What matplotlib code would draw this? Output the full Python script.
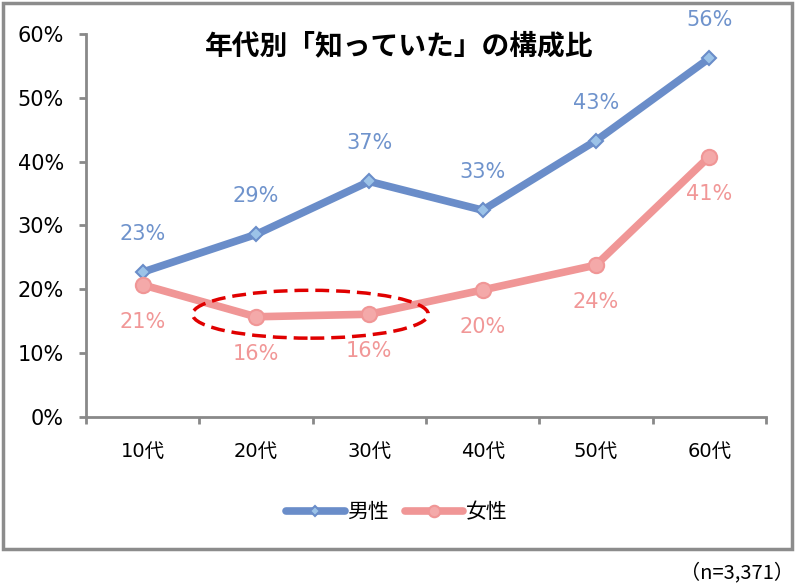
import matplotlib
matplotlib.use("Agg")
import matplotlib.pyplot as plt
from matplotlib.patches import Ellipse, Rectangle
from matplotlib.ticker import FixedLocator, PercentFormatter

plt.rcParams['font.family'] = ['DejaVu Sans', 'Noto Sans CJK JP']

categories = ['10代', '20代', '30代', '40代', '50代', '60代']
male = [22.7, 28.6, 36.9, 32.4, 43.3, 56.2]
female = [20.7, 15.7, 16.1, 19.9, 23.8, 40.8]
male_labels = ['23%', '29%', '37%', '33%', '43%', '56%']
female_labels = ['21%', '16%', '16%', '20%', '24%', '41%']
yticks = [0, 10, 20, 30, 40, 50, 60]
title = '年代別「知っていた」の構成比'
note = '（n=3,371）'

male_col = '#6a8dc9'
male_fill = '#9cc3e8'
female_col = '#f09696'
female_fill = '#f4a9a9'
axis_col = '#898989'

fig = plt.figure(figsize=(8, 5.87), dpi=100)
ax = fig.add_axes([0.1075, 0.2896, 0.85, 0.6525])

x = list(range(len(categories)))
ax.plot(x, male, color=male_col, lw=5.5, marker='D', ms=7,
        mfc=male_fill, mec=male_col, mew=1.5, label='男性', solid_capstyle='round', zorder=3)
ax.plot(x, female, color=female_col, lw=5.5, marker='o', ms=11,
        mfc=female_fill, mec=female_col, mew=1.5, label='女性', solid_capstyle='round', zorder=3)

for xi, v, t in zip(x, male, male_labels):
    ax.annotate(t, (xi, v), xytext=(0, 38), textcoords='offset pixels',
                ha='center', va='center', fontsize=15, color='#6f93cc')
for xi, v, t in zip(x, female, female_labels):
    ax.annotate(t, (xi, v), xytext=(0, -37), textcoords='offset pixels',
                ha='center', va='center', fontsize=15, color='#f19797')

ell = Ellipse((1.48, 16.1), 2.08, 7.5, fill=False, ec='#e00000', lw=2.5,
              ls=(0, (4, 2)), zorder=4)
ax.add_patch(ell)

ax.set_xlim(-0.5, 5.5)
ax.set_ylim(0, 60)
ax.set_yticks(yticks)
ax.yaxis.set_major_formatter(PercentFormatter(decimals=0))
ax.set_xticks(x)
ax.set_xticklabels(categories)
ax.xaxis.set_minor_locator(FixedLocator([i - 0.5 for i in range(len(categories) + 1)]))
ax.tick_params(axis='x', which='major', length=0, pad=18, labelsize=14, colors='black')
ax.tick_params(axis='x', which='minor', length=5, width=2, color=axis_col)
ax.tick_params(axis='y', length=5, width=2, color=axis_col, labelsize=15, pad=11, labelcolor='black')
for s in ['top', 'right']:
    ax.spines[s].set_visible(False)
for s in ['left', 'bottom']:
    ax.spines[s].set_color(axis_col)
    ax.spines[s].set_linewidth(2)

fig.text(0.499, 0.921, title, ha='center', va='center', fontsize=20, fontweight='bold',
         family=['Noto Sans CJK JP', 'DejaVu Sans'])

leg = ax.legend(loc='center', bbox_to_anchor=(0.496, 0.128), bbox_transform=fig.transFigure,
                ncol=2, frameon=False, handlelength=2.8, handletextpad=0.1,
                columnspacing=0.8, numpoints=1, markerscale=0.75,
                prop={'family': ['Noto Sans CJK JP'], 'size': 15})

fig.patches.append(Rectangle((3 / 800, 1 - 549 / 587), 789 / 800, 546 / 587,
                             transform=fig.transFigure, fill=False, ec='#8c8c8c', lw=2.5))
fig.text(0.993, 0.024, note, ha='right', va='center', fontsize=14.5,
         family=['Noto Sans CJK JP', 'DejaVu Sans'])

fig.savefig('out.png', dpi=100)
